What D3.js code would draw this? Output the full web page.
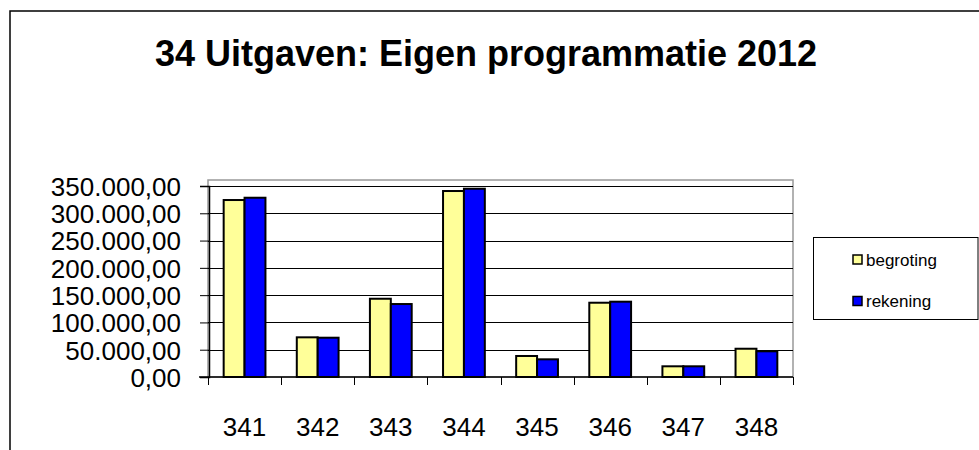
<!DOCTYPE html>
<html>
<head>
<meta charset="utf-8">
<script src="https://cdn.jsdelivr.net/npm/d3@7"></script>
<style>
  body { margin: 0; background: #fff; }
  svg { font-family: "Liberation Sans", Arial, sans-serif; }
</style>
</head>
<body>
<div id="chart"></div>
<script>
var categories = ["341", "342", "343", "344", "345", "346", "347", "348"];
var seriesNames = ["begroting", "rekening"];
var begroting = [324300, 72700, 143400, 340800, 38500, 136100, 19600, 51800];
var rekening = [328500, 72000, 133700, 345000, 32400, 138000, 19600, 47100];
var yTicks = [0, 50000, 100000, 150000, 200000, 250000, 300000, 350000];
var colors = { begroting: "#FFFF99", rekening: "#0000FF" };

var W = 979, H = 450;
var plot = { left: 208, right: 793, top: 186, bottom: 377 };

var nl = d3.formatLocale({ decimal: ",", thousands: ".", grouping: [3], currency: ["€", ""] });
var fmt = nl.format(",.2f");

var svg = d3.select("#chart")
    .append("svg")
    .attr("width", W)
    .attr("height", H);

// outer chart frame (right and bottom fall outside the window)
svg.append("rect")
    .attr("x", 10).attr("y", 11)
    .attr("width", 1000).attr("height", 500)
    .attr("fill", "none")
    .attr("stroke", "#000")
    .attr("stroke-width", 1.5);

// title
svg.append("text")
    .attr("x", 486)
    .attr("y", 66)
    .attr("text-anchor", "middle")
    .style("font-size", "36px")
    .style("font-weight", "bold")
    .text("34 Uitgaven: Eigen programmatie 2012");

// scales
var x0 = d3.scaleBand()
    .domain(categories)
    .range([plot.left, plot.right]);

var x1 = d3.scaleBand()
    .domain(seriesNames)
    .range([0, x0.bandwidth()])
    .paddingOuter(0.75);

var y = d3.scaleLinear()
    .domain([0, 350000])
    .range([plot.bottom, plot.top]);

// plot area border
svg.append("rect")
    .attr("x", plot.left).attr("y", plot.top - 6)
    .attr("width", plot.right - plot.left)
    .attr("height", plot.bottom - plot.top + 6)
    .attr("fill", "none")
    .attr("stroke", "#999")
    .attr("stroke-width", 1.5);

// gridlines
svg.append("g")
    .selectAll("line")
    .data(yTicks.slice(1))
    .enter()
    .append("line")
    .attr("x1", plot.left).attr("x2", plot.right)
    .attr("y1", function(d) { return Math.round(y(d)) + 0.5; })
    .attr("y2", function(d) { return Math.round(y(d)) + 0.5; })
    .attr("stroke", "#000")
    .attr("stroke-width", 1);

// bars
var rows = categories.map(function(c, i) {
    return { cat: c, values: [
        { name: "begroting", value: begroting[i] },
        { name: "rekening", value: rekening[i] }
    ] };
});

svg.append("g")
    .selectAll("g")
    .data(rows)
    .enter()
    .append("g")
    .attr("transform", function(d) { return "translate(" + x0(d.cat) + ",0)"; })
    .selectAll("rect")
    .data(function(d) { return d.values; })
    .enter()
    .append("rect")
    .attr("x", function(d) { return x1(d.name); })
    .attr("width", x1.bandwidth())
    .attr("y", function(d) { return y(d.value); })
    .attr("height", function(d) { return y(0) - y(d.value); })
    .attr("fill", function(d) { return colors[d.name]; })
    .attr("stroke", "#000")
    .attr("stroke-width", 2);

// y axis
var yAxis = svg.append("g")
    .attr("transform", "translate(" + (plot.left + 1) + ",0)")
    .call(d3.axisLeft(y)
        .tickValues(yTicks)
        .tickFormat(fmt)
        .tickSize(9)
        .tickPadding(19));
yAxis.select(".domain").attr("stroke", "#000").attr("stroke-width", 1.5);
yAxis.selectAll(".tick line").attr("stroke", "#000");
yAxis.selectAll(".tick text")
    .style("font-size", "26px")
    .style("font-family", "'Liberation Sans', Arial, sans-serif")
    .attr("fill", "#000")
    .attr("dy", "0.36em");

// x axis line
svg.append("line")
    .attr("x1", plot.left - 9).attr("x2", plot.right)
    .attr("y1", plot.bottom).attr("y2", plot.bottom)
    .attr("stroke", "#000")
    .attr("stroke-width", 1.5);

// category ticks at band boundaries
var bounds = categories.map(function(c) { return x0(c); }).concat([plot.right]);
svg.append("g")
    .selectAll("line")
    .data(bounds)
    .enter()
    .append("line")
    .attr("x1", function(d) { return Math.round(d) + 0.5; })
    .attr("x2", function(d) { return Math.round(d) + 0.5; })
    .attr("y1", plot.bottom).attr("y2", plot.bottom + 8)
    .attr("stroke", "#000");

// category labels
svg.append("g")
    .selectAll("text")
    .data(categories)
    .enter()
    .append("text")
    .attr("x", function(d) { return x0(d) + x0.bandwidth() / 2; })
    .attr("y", 436)
    .attr("text-anchor", "middle")
    .style("font-size", "26px")
    .text(function(d) { return d; });

// legend
var legend = svg.append("g");
legend.append("rect")
    .attr("x", 813.5).attr("y", 237.5)
    .attr("width", 164.5).attr("height", 82)
    .attr("fill", "#fff")
    .attr("stroke", "#000")
    .attr("stroke-width", 1);

var items = legend.selectAll("g")
    .data(seriesNames)
    .enter()
    .append("g")
    .attr("transform", function(d, i) { return "translate(853," + (259.5 + i * 41.5) + ")"; });

items.append("rect")
    .attr("x", 0).attr("y", -4.5)
    .attr("width", 9).attr("height", 9)
    .attr("fill", function(d) { return colors[d]; })
    .attr("stroke", "#000")
    .attr("stroke-width", 1.5);

items.append("text")
    .attr("x", 13)
    .attr("y", 6)
    .style("font-size", "17px")
    .text(function(d) { return d; });
</script>
</body>
</html>
